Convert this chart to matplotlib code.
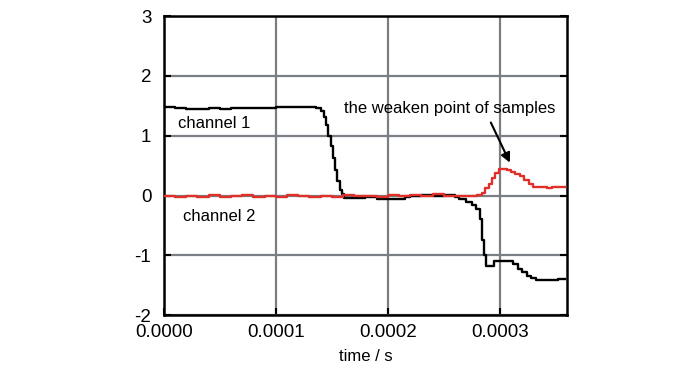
import numpy as np
import matplotlib.pyplot as plt

plt.rcParams['font.family'] = ['Liberation Sans', 'DejaVu Sans']

# time in units of 1e-4 s
ch1_t = [0.0, 0.1, 0.2, 0.3, 0.4, 0.5, 0.6, 0.8, 1.0, 1.2, 1.3, 1.36, 1.40, 1.43,
         1.45, 1.47, 1.49, 1.51, 1.53, 1.55, 1.57, 1.59, 1.61, 1.64, 1.7, 1.8,
         1.9, 2.0, 2.1, 2.15, 2.2, 2.3, 2.4, 2.5, 2.6, 2.64, 2.7, 2.75, 2.79,
         2.82, 2.84, 2.86, 2.88, 2.91, 2.95, 3.0, 3.08, 3.12, 3.16, 3.2, 3.24,
         3.28, 3.32, 3.4, 3.48, 3.52, 3.58]
ch1_v = [1.48, 1.47, 1.45, 1.45, 1.46, 1.45, 1.47, 1.47, 1.48, 1.48, 1.48, 1.46,
         1.42, 1.32, 1.18, 1.0, 0.82, 0.62, 0.42, 0.25, 0.1, 0.02, -0.04, -0.04,
         -0.04, -0.03, -0.05, -0.05, -0.05, -0.03, 0.0, 0.01, 0.0, 0.01, -0.02,
         -0.05, -0.1, -0.15, -0.22, -0.4, -0.75, -1.0, -1.17, -1.17, -1.1,
         -1.1, -1.1, -1.15, -1.22, -1.28, -1.34, -1.38, -1.42, -1.42, -1.42,
         -1.40, -1.40]

ch2_t = [0.0, 0.1, 0.2, 0.3, 0.4, 0.5, 0.6, 0.7, 0.8, 0.9, 1.0, 1.1, 1.2, 1.3,
         1.4, 1.5, 1.6, 1.7, 1.8, 1.9, 2.0, 2.1, 2.2, 2.3, 2.4, 2.5, 2.6, 2.7,
         2.8, 2.84, 2.87, 2.9, 2.93, 2.96, 2.99, 3.02, 3.06, 3.1, 3.14, 3.18,
         3.22, 3.26, 3.3, 3.36, 3.42, 3.47, 3.58]
ch2_v = [-0.01, -0.03, 0.0, -0.02, 0.01, -0.02, -0.01, 0.01, -0.02, 0.0,
         -0.02, 0.01, -0.01, -0.02, 0.0, -0.02, 0.01, -0.01, 0.0, -0.02, 0.01,
         -0.01, 0.01, -0.01, 0.02, -0.01, 0.0, -0.01, 0.01, 0.05, 0.12, 0.2,
         0.3, 0.38, 0.44, 0.45, 0.43, 0.4, 0.36, 0.32, 0.26, 0.2, 0.15, 0.15,
         0.12, 0.15, 0.15]

x1 = np.array(ch1_t) * 1e-4
x2 = np.array(ch2_t) * 1e-4

fig = plt.figure(figsize=(7.0, 3.73), dpi=100)
ax = fig.add_axes([0.234, 0.155, 0.576, 0.802])

ax.plot(x1, ch1_v, color='black', lw=1.7, drawstyle='steps-post', zorder=3)
ax.plot(x2, ch2_v, color='#e0302a', lw=1.7, drawstyle='steps-post', zorder=4)

ax.set_xlim(0, 0.00036)
ax.set_ylim(-2, 3)
ax.set_xticks([0, 0.0001, 0.0002, 0.0003])
ax.set_xticklabels(['0.0000', '0.0001', '0.0002', '0.0003'])
ax.set_yticks([-2, -1, 0, 1, 2, 3])
ax.set_yticklabels(['-2', '-1', '0', '1', '2', '3'])
ax.grid(True, color='#7a7f85', lw=1.6)
ax.set_axisbelow(True)
for s in ax.spines.values():
    s.set_linewidth(1.8)
ax.tick_params(direction='in', length=5, width=1.5, labelsize=13.5,
               right=True)
ax.tick_params(axis='y', pad=9)
ax.tick_params(axis='x', pad=6)
ax.set_xlabel('time / s', fontsize=12, labelpad=6)

ax.text(0.13e-4, 1.2, 'channel 1', fontsize=12, va='center')
ax.text(0.17e-4, -0.35, 'channel 2', fontsize=12, va='center')
ax.text(2.55e-4, 1.45, 'the weaken point of samples', fontsize=12,
        ha='center', va='center')
ax.annotate('', xy=(3.09e-4, 0.55), xytext=(2.92e-4, 1.22),
            arrowprops=dict(arrowstyle='-|>', color='black', lw=1.5,
                            shrinkA=0, shrinkB=0, mutation_scale=14))

fig.savefig('out.png', dpi=100)
